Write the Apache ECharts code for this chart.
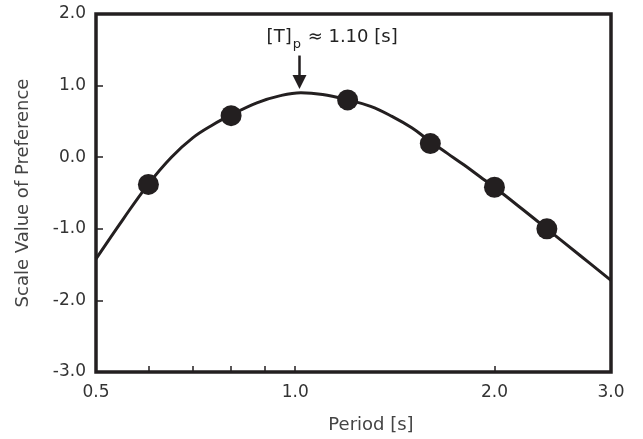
<!DOCTYPE html>
<html>
<head>
<meta charset="utf-8">
<script src="https://cdn.jsdelivr.net/npm/echarts@6/dist/echarts.min.js"></script>
<style>
  html, body { margin: 0; padding: 0; background: #ffffff; }
  #chart { width: 643px; height: 439px; }
</style>
</head>
<body>
<div id="chart"></div>
<script>
// ---- data ----
const curvePeriod = [0.5, 0.55, 0.6, 0.65, 0.7, 0.75, 0.8, 0.875, 0.95, 1.02, 1.1, 1.2, 1.3, 1.4, 1.5, 1.6, 1.7, 1.8, 1.9, 2.0, 2.2, 2.4, 2.7, 3.0];
const curveValue  = [-1.42, -0.86, -0.375, 0.0, 0.27, 0.45, 0.59, 0.76, 0.86, 0.90, 0.875, 0.80, 0.71, 0.57, 0.41, 0.22, 0.05, -0.11, -0.27, -0.42, -0.72, -1.0, -1.38, -1.72];

const pointPeriod = [0.6, 0.8, 1.2, 1.6, 2.0, 2.4];
const pointValue  = [-0.38, 0.58, 0.80, 0.19, -0.42, -1.0];

const xTicks       = [0.6, 0.7, 0.8, 0.9, 1.0, 2.0];
const xTickLabels  = [0.5, 1.0, 2.0, 3.0];

const arrowPeriod = 1.015;
const arrowTop = 1.42;
const arrowEnd = 1.05;
const labelPeriod = 1.137;
const labelValue = 1.655;

const xName = 'Period [s]';
const yName = 'Scale Value of Preference';

// ---- chart ----
const FONT = 'DejaVu Sans';
const INK = '#231f20';
const chart = echarts.init(document.getElementById('chart'), null, { renderer: 'canvas' });

const option = {
  animation: false,
  backgroundColor: '#ffffff',
  grid: {
    left: 96, right: 32, top: 14, bottom: 67,
    show: true, borderColor: INK, borderWidth: 3.5, backgroundColor: 'transparent',
    containLabel: false, outerBoundsMode: 'none'
  },
  xAxis: {
    type: 'log', logBase: 10, min: 0.5, max: 3.0, position: 'bottom',
    axisLine: { show: false, onZero: false },
    splitLine: { show: false },
    axisTick: { show: true, inside: true, length: 6, lineStyle: { color: INK, width: 1.5 }, customValues: xTicks },
    axisLabel: {
      show: true, customValues: xTickLabels, margin: 12,
      formatter: v => Number(v).toFixed(1),
      fontFamily: FONT, fontSize: 17, color: '#333'
    },
    name: xName, nameLocation: 'middle', nameGap: 44,
    nameTextStyle: { fontFamily: FONT, fontSize: 18, color: '#444', padding: [0, 0, 0, 35] }
  },
  yAxis: {
    type: 'value', min: -3, max: 2, interval: 1,
    axisLine: { show: false, onZero: false },
    splitLine: { show: false },
    axisTick: { show: true, inside: true, length: 7, lineStyle: { color: INK, width: 1.5 } },
    axisLabel: {
      margin: 10, formatter: v => Number(v).toFixed(1),
      fontFamily: FONT, fontSize: 17, color: '#333'
    },
    name: yName, nameLocation: 'middle', nameGap: 64,
    nameTextStyle: { fontFamily: FONT, fontSize: 18, color: '#444' }
  },
  series: [
    {
      type: 'line',
      data: curvePeriod.map((p, i) => [p, curveValue[i]]),
      smooth: 0.4,
      showSymbol: false,
      symbol: 'none',
      lineStyle: { color: INK, width: 3 },
      z: 3,
      markLine: {
        silent: true,
        animation: false,
        symbol: ['none', 'triangle'],
        symbolSize: 14,
        label: { show: false },
        lineStyle: { color: INK, width: 2.5, type: 'solid' },
        data: [[
          { coord: [arrowPeriod, arrowTop] },
          { coord: [arrowPeriod, arrowEnd] }
        ]]
      }
    },
    {
      type: 'scatter',
      data: pointPeriod.map((p, i) => [p, pointValue[i]]),
      symbol: 'circle',
      symbolSize: 21,
      itemStyle: { color: INK, opacity: 1 },
      z: 4,
      markPoint: {
        silent: true,
        animation: false,
        symbol: 'circle',
        symbolSize: 0,
        itemStyle: { color: 'transparent' },
        label: {
          show: true,
          position: 'inside',
          formatter: '{a|[T]}{b|p}{a| ≈ 1.10 [s]}',
          rich: {
            a: { fontFamily: FONT, fontSize: 18, color: '#222', lineHeight: 20, verticalAlign: 'top' },
            b: { fontFamily: FONT, fontSize: 13, color: '#222', lineHeight: 13, padding: [9, 1, 0, 1], verticalAlign: 'top' }
          }
        },
        data: [{ coord: [labelPeriod, labelValue] }]
      }
    }
  ]
};

chart.setOption(option);
</script>
</body>
</html>
